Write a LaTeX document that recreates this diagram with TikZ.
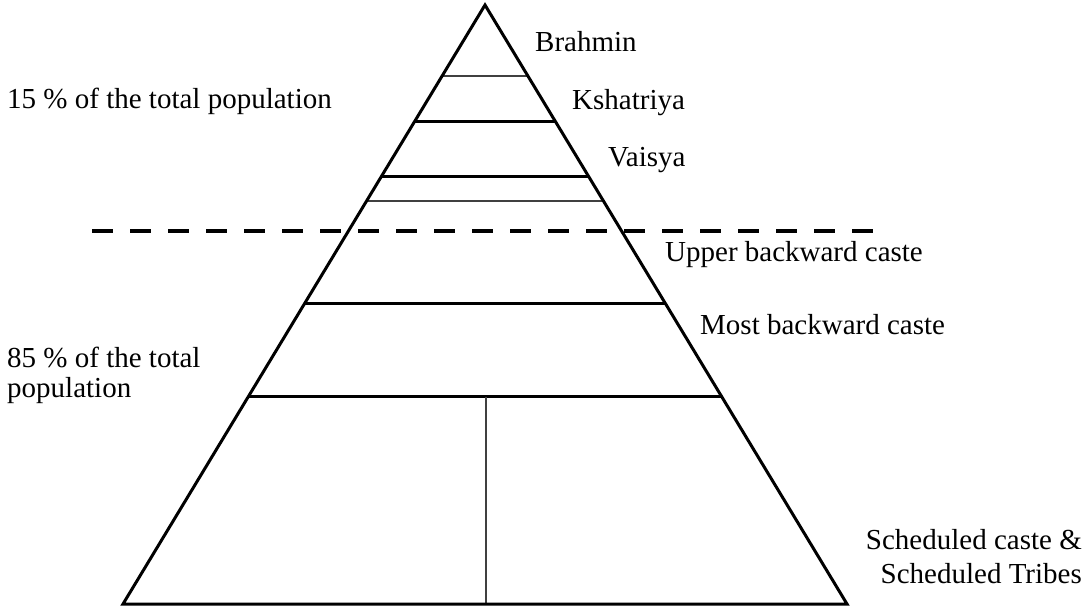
\documentclass[tikz,border=0pt]{standalone}
\usepackage{fontspec}
\setmainfont{Liberation Serif}
\usetikzlibrary{calc}
\tikzset{
  outline/.style={line width=3pt, black, line join=miter},
  tier/.style={line width=3pt, black},
  thintier/.style={line width=2pt, black!75},
  splitline/.style={line width=2pt, black!75},
  divider/.style={line width=4pt, black, dash pattern=on 21pt off 17pt},
  lbl/.style={anchor=base west, inner sep=0pt, font=\fontsize{29}{30}\selectfont},
  rlbl/.style={lbl, anchor=base east},
}
\begin{document}
\begin{tikzpicture}[x=1pt,y=-1pt]
\useasboundingbox (0,0) rectangle (1089,607);
\coordinate (apex) at (485,5);
\coordinate (bl) at (123,604);
\coordinate (br) at (847,604);
% tier lines
\draw[thintier] ($(apex)!0.1185!(bl)$) -- ($(apex)!0.1185!(br)$);
\draw[tier] ($(apex)!0.1953!(bl)$) -- ($(apex)!0.1953!(br)$);
\draw[tier] ($(apex)!0.2855!(bl)$) -- ($(apex)!0.2855!(br)$);
\draw[thintier] ($(apex)!0.3272!(bl)$) -- ($(apex)!0.3272!(br)$);
\draw[tier] ($(apex)!0.4975!(bl)$) -- ($(apex)!0.4975!(br)$);
\coordinate (l6) at ($(apex)!0.6544!(bl)$);
\coordinate (r6) at ($(apex)!0.6544!(br)$);
\draw[tier] (l6) -- (r6);
\coordinate (vtop) at (486,397);
\coordinate (vbot) at (486,604);
\draw[splitline] (vtop) -- (vbot);
% pyramid outline
\draw[outline] (apex) -- (bl) -- (br) -- cycle;
% dashed divider
\coordinate (dl) at (92,231);
\coordinate (dr) at (878,231);
\draw[divider] (dl) -- (dr);
% labels
\node[lbl] (brahmin) at (535,52) {Brahmin};
\node[lbl] (kshatriya) at (572,110) {Kshatriya};
\node[lbl] (vaisya) at (608,166) {Vaisya};
\node[lbl] (upper) at (665,261) {Upper backward caste};
\node[lbl] (most) at (700,334) {Most backward caste};
\node[lbl] (top15) at (7,109) {15 \% of the total population};
\node[lbl] (bot85a) at (7,367) {85 \% of the total};
\node[lbl] (bot85b) at (7,397) {population};
\node[rlbl] (sca) at (1082,549) {Scheduled caste \&};
\node[rlbl] (scb) at (1082,583) {Scheduled Tribes};
\end{tikzpicture}
\end{document}
